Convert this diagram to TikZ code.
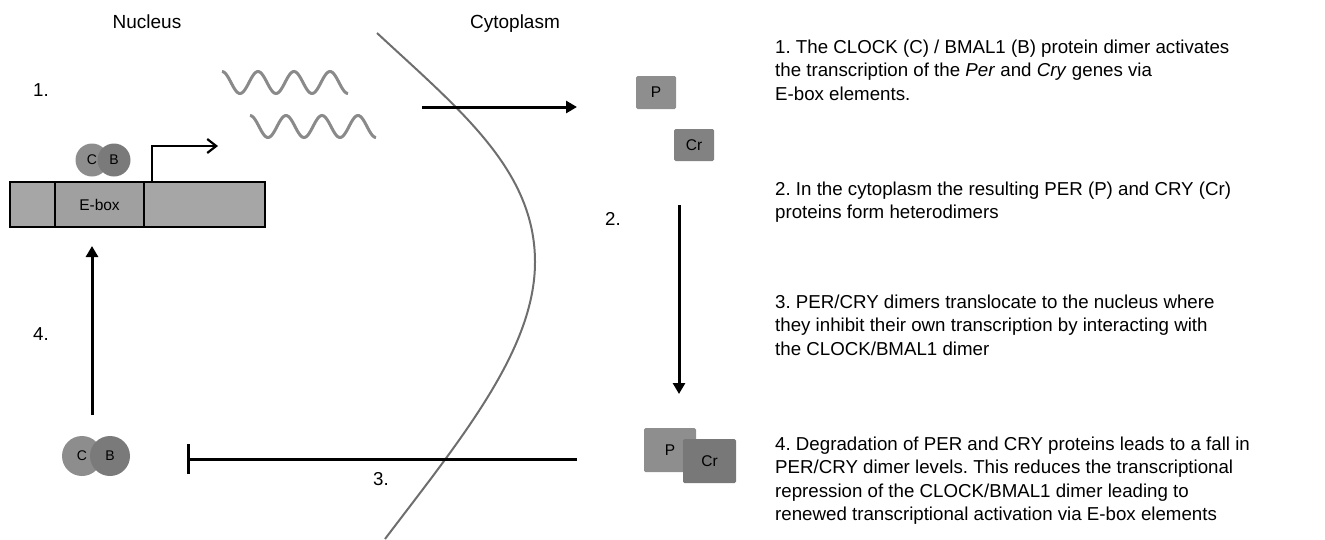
\documentclass[tikz,border=0pt]{standalone}
\usepackage{fontspec}
\setmainfont{Liberation Sans}
\usetikzlibrary{arrows.meta}
\definecolor{wavegray}{HTML}{8A8A8A}
\definecolor{memgray}{HTML}{6E6E6E}
\definecolor{genefill}{HTML}{A6A6A6}
\definecolor{eboxfill}{HTML}{A0A0A0}
\definecolor{cfill}{HTML}{8D8D8D}
\definecolor{bfill}{HTML}{7A7A7A}
\definecolor{pfill}{HTML}{8E8E8E}
\definecolor{crfill}{HTML}{828282}
\frenchspacing
\begin{document}
\frenchspacing
\begin{tikzpicture}[x=1pt,y=-1pt,
  body/.style={anchor=base west,inner sep=0pt,font=\fontsize{18.7}{23.5}\selectfont\frenchspacing},
  lbl/.style={anchor=base,inner sep=0pt,font=\fontsize{19}{23}\selectfont},
  small/.style={font=\fontsize{15.5}{18}\selectfont},
  seg/.style={draw=black,line width=2pt,minimum height=45pt,inner sep=0pt,small},
  prot/.style={circle,inner sep=0pt,font=\fontsize{14}{16}\selectfont},
  pbox/.style={rectangle,rounded corners=1.5pt,inner sep=0pt,small},
  wave/.style={draw=wavegray,line width=3pt},
  mainarrow/.style={line width=3pt,-{Triangle[length=11pt,width=12pt]}},
]
\useasboundingbox (0,0) rectangle (1325,539);

% headings
\node[lbl] (nuc) at (147,28) {Nucleus};
\node[lbl] (cyt) at (515,28) {Cytoplasm};

% membrane
\draw[memgray,line width=2pt] (377,33) .. controls (460,110) and (535,170) .. (535,262)
      .. controls (535,350) and (460,440) .. (385,539);

% mRNA waves
\draw[wave] plot[domain=0:126,samples=90,smooth] ({222+\x},{82.5-11*cos(10*\x)});
\draw[wave] plot[domain=0:126,samples=90,smooth] ({250+\x},{126.5-11*cos(10*\x)});

% gene
\node[seg,fill=genefill,minimum width=45pt] (lseg) at (32.5,204.5) {};
\node[seg,fill=eboxfill,minimum width=89pt] (ebox) at (99.5,204.5) {E-box};
\node[seg,fill=genefill,minimum width=121pt] (rseg) at (204.5,204.5) {};

% CLOCK/BMAL1 on gene
\node[prot,fill=cfill,minimum size=33pt] (c1) at (92,160) {C};
\node[prot,fill=bfill,minimum size=33pt] (b1) at (114,160) {B};

% transcription start arrow
\coordinate (tss) at (152,181);
\coordinate (tssend) at (218,146);
\draw[line width=2.2pt,-{Straight Barb[length=9pt,width=14pt,line width=2.2pt]}] (tss) |- (tssend);

% numbers
\node[body] (n1) at (33,96) {1.};
\node[body] (n2) at (605,225) {2.};
\node[body] (n3) at (373,485) {3.};
\node[body] (n4) at (33,340) {4.};

% PER / CRY top
\node[pbox,fill=pfill,minimum width=40pt,minimum height=33pt] (p1) at (656,92.5) {P};
\node[pbox,fill=crfill,minimum width=40pt,minimum height=32pt] (cr1) at (694,145) {Cr};

% PER / CRY bottom
\node[pbox,fill=pfill,minimum width=52pt,minimum height=44pt] (p2) at (670,450) {P};
\node[pbox,fill=crfill!92!black,minimum width=53pt,minimum height=44pt] (cr2) at (709.5,461) {Cr};

% bottom CLOCK/BMAL1
\node[prot,fill=cfill,minimum size=40pt] (c2) at (82,456) {C};
\node[prot,fill=bfill,minimum size=40pt] (b2) at (110,456) {B};

% arrows
\coordinate (a1s) at (422,107);
\coordinate (a1e) at (577,107);
\draw[mainarrow] (a1s) -- (a1e);
\coordinate (a2s) at (679,205);
\coordinate (a2e) at (679,394);
\draw[mainarrow] (a2s) -- (a2e);
\coordinate (a4s) at (92,415);
\coordinate (a4e) at (92,246);
\draw[mainarrow] (a4s) -- (a4e);
\coordinate (inhs) at (577,459);
\coordinate (inhe) at (187,459);
\draw[line width=3pt,-{Bar[width=30pt,line width=3pt]}] (inhs) -- (inhe);

% explanatory text
\node[body] (t1a) at (775,53) {1. The CLOCK (C) / BMAL1 (B) protein dimer activates};
\node[body] (t1b) at (775,76.5) {the transcription of the \textit{Per} and \textit{Cry} genes via};
\node[body] (t1c) at (775,100) {E-box elements.};

\node[body] (t2a) at (775,195) {2. In the cytoplasm the resulting PER (P) and CRY (Cr)};
\node[body] (t2b) at (775,218.5) {proteins form heterodimers};

\node[body] (t3a) at (775,308) {3. PER/CRY dimers translocate to the nucleus where};
\node[body] (t3b) at (775,331.5) {they inhibit their own transcription by interacting with};
\node[body] (t3c) at (775,355) {the CLOCK/BMAL1 dimer};

\node[body] (t4a) at (775,450) {4. Degradation of PER and CRY proteins leads to a fall in};
\node[body] (t4b) at (775,473.5) {PER/CRY dimer levels. This reduces the transcriptional};
\node[body] (t4c) at (775,497) {repression of the CLOCK/BMAL1 dimer leading to};
\node[body] (t4d) at (775,520.5) {renewed transcriptional activation via E-box elements};
\end{tikzpicture}
\end{document}
